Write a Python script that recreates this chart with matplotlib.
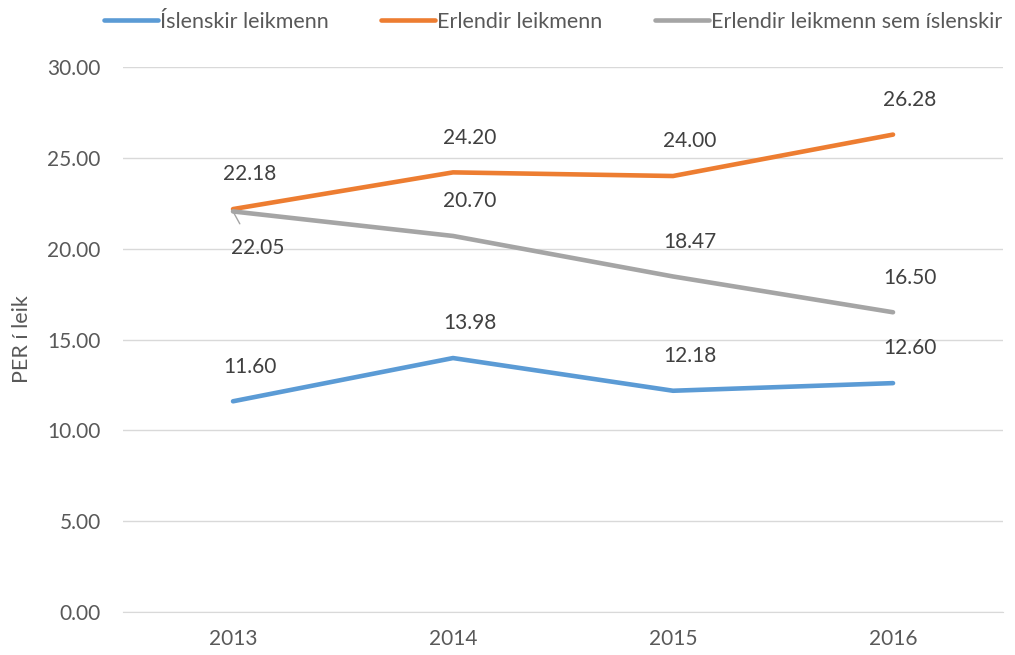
import matplotlib.pyplot as plt
import numpy as np

plt.rcParams['font.family'] = ['Lato', 'DejaVu Sans']

# gogn
ar = ['2013', '2014', '2015', '2016']
islenskir = [11.60, 13.98, 12.18, 12.60]
erlendir = [22.18, 24.20, 24.00, 26.28]
erl_sem_isl = [22.05, 20.70, 18.47, 16.50]

blar = '#5B9BD5'
appelsinugulur = '#ED7D31'
grar = '#A5A5A5'
texti = '#595959'

fig = plt.figure(figsize=(10.15, 6.55), dpi=100)
ax = fig.add_axes([0.1212, 0.0656, 0.8670, 0.8321])

x = np.arange(len(ar))
ax.plot(x, islenskir, color=blar, lw=3.3, label='Íslenskir leikmenn', solid_capstyle='round')
ax.plot(x, erlendir, color=appelsinugulur, lw=3.3, label='Erlendir leikmenn', solid_capstyle='round')
ax.plot(x, erl_sem_isl, color=grar, lw=3.3, label='Erlendir leikmenn sem íslenskir', solid_capstyle='round')

# gildi a punktum
for serie in [islenskir, erlendir]:
    for i, v in enumerate(serie):
        ax.annotate('%.2f' % v, (x[i], v), xytext=(12, 25), textcoords='offset points',
                    ha='center', va='center', fontsize=15, color='#404040')
for i, v in enumerate(erl_sem_isl):
    if i == 0:
        ax.annotate('%.2f' % v, (x[i], v), xytext=(18, -26), textcoords='offset points',
                    ha='center', va='center', fontsize=15, color='#404040',
                    arrowprops=dict(arrowstyle='-', color=grar, lw=1,
                                    shrinkA=9, shrinkB=0, relpos=(0.3, 1)))
    else:
        ax.annotate('%.2f' % v, (x[i], v), xytext=(12, 25), textcoords='offset points',
                    ha='center', va='center', fontsize=15, color='#404040')

ax.set_xlim(-0.5, 3.5)
ax.set_ylim(0, 30)
ax.set_yticks(np.arange(0, 31, 5))
ax.set_yticklabels(['%.2f' % t for t in np.arange(0, 31, 5)])
ax.set_xticks(x)
ax.set_xticklabels(ar)
ax.tick_params(axis='both', length=0, labelsize=15, labelcolor=texti)
ax.tick_params(axis='y', pad=16)
ax.tick_params(axis='x', pad=12)
ax.grid(axis='y', color='#D9D9D9', lw=1)
ax.set_axisbelow(True)
for s in ['top', 'right', 'left']:
    ax.spines[s].set_visible(False)
ax.spines['bottom'].set_color('#D9D9D9')
ax.set_ylabel('PER í leik', fontsize=15.5, color=texti)
ax.yaxis.set_label_coords(-0.103, 0.5)

fig.legend(loc='upper center', bbox_to_anchor=(0.545, 1.012), ncol=3, frameon=False,
           fontsize=15.5, labelcolor=texti, handlelength=2.5, handletextpad=0.1,
           columnspacing=2.45)

plt.savefig('out.png', dpi=100)
